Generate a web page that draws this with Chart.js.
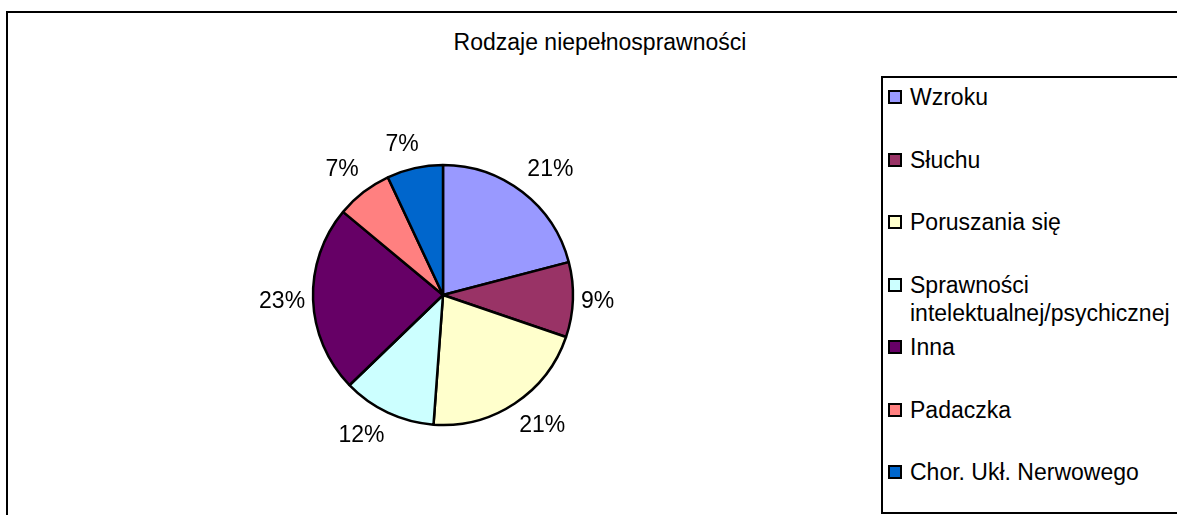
<!DOCTYPE html>
<html>
<head>
<meta charset="utf-8">
<script src="https://cdn.jsdelivr.net/npm/chart.js"></script>
<style>
  html, body { margin:0; padding:0; background:#fff; }
  #page { position:relative; width:1177px; height:515px; overflow:hidden; background:#fff;
          font-family:"Liberation Sans", Arial, sans-serif; color:#000; }
  #frame { position:absolute; left:6px; top:11px; width:1300px; height:700px; border:2px solid #000; }
  #chart { position:absolute; left:0; top:0; }
  #title { position:absolute; left:0; top:28px; width:1200px; text-align:center; font-size:23px; line-height:28px; }
  #legend { position:absolute; left:881px; top:76px; width:400px; height:434px; border:2px solid #000; }
  .item { position:absolute; left:5px; font-size:23px; line-height:28px; }
  .item .box { position:absolute; left:0; top:7px; width:10px; height:10px; border:2px solid #000; }
  .item .txt { margin-left:22px; width:268px; }
</style>
</head>
<body>
<div id="page">
<div id="frame"></div>
<div id="title">Rodzaje niepełnosprawności</div>
<div id="legend"></div>
<canvas id="chart" width="1177" height="515"></canvas>
</div>
<script>
// data
const labels = ['Wzroku', 'Słuchu', 'Poruszania się', 'Sprawności intelektualnej/psychicznej', 'Inna', 'Padaczka', 'Chor. Ukł. Nerwowego'];
const values = [9, 4, 9, 5, 10, 3, 3];
const colors = ['#9999FF', '#993366', '#FFFFCC', '#CCFFFF', '#660066', '#FF8080', '#0066CC'];

//legend
var legend = document.getElementById('legend');
labels.forEach(function(lab, i){
    var item = document.createElement('div');
    item.className = 'item';
    item.style.top = (5 + i * 62.5) + 'px';
    var box = document.createElement('div');
    box.className = 'box';
    box.style.background = colors[i];
    var txt = document.createElement('div');
    txt.className = 'txt';
    txt.textContent = lab;
    item.appendChild(box);
    item.appendChild(txt);
    legend.appendChild(item);
});

//percent labels outside the slices
const pctLabels = {
    id: 'pctLabels',
    afterDatasetsDraw(chart) {
        const ctx = chart.ctx;
        const meta = chart.getDatasetMeta(0);
        const total = values.reduce((a, b) => a + b, 0);
        ctx.save();
        ctx.font = '23px "Liberation Sans", Arial, sans-serif';
        ctx.fillStyle = '#000';
        ctx.textAlign = 'center';
        ctx.textBaseline = 'middle';
        meta.data.forEach(function(arc, i){
            const p = arc.getProps(['x', 'y', 'startAngle', 'endAngle', 'outerRadius'], true);
            const mid = (p.startAngle + p.endAngle) / 2;
            const dx = Math.cos(mid), dy = Math.sin(mid);
            const text = Math.round(values[i] / total * 100) + '%';
            const w = ctx.measureText(text).width;
            const clamp = v => Math.max(-1, Math.min(1, v));
            const tx = p.x + dx * (p.outerRadius + 8) + w / 2 * clamp(3 * dx);
            const ty = p.y + dy * (p.outerRadius + 8) + 16 * clamp(3 * dy);
            ctx.fillText(text, tx, ty);
        });
        ctx.restore();
    }
};

const config = {
    type: 'pie',
    data: {
        labels: labels,
        datasets: [{
            data: values,
            backgroundColor: colors,
            borderColor: '#000',
            borderWidth: 2.5,
        }]
    },
    options: {
        responsive: false,
        animation: false,
        radius: 130,
        layout: { padding: { left: 293, right: 584, top: 145, bottom: 70 } },
        plugins: {
            legend: { display: false },
            title: { display: false },
            tooltip: { enabled: false }
        }
    },
    plugins: [pctLabels]
};

const myChart = new Chart(document.getElementById('chart'), config);
</script>
</body>
</html>
